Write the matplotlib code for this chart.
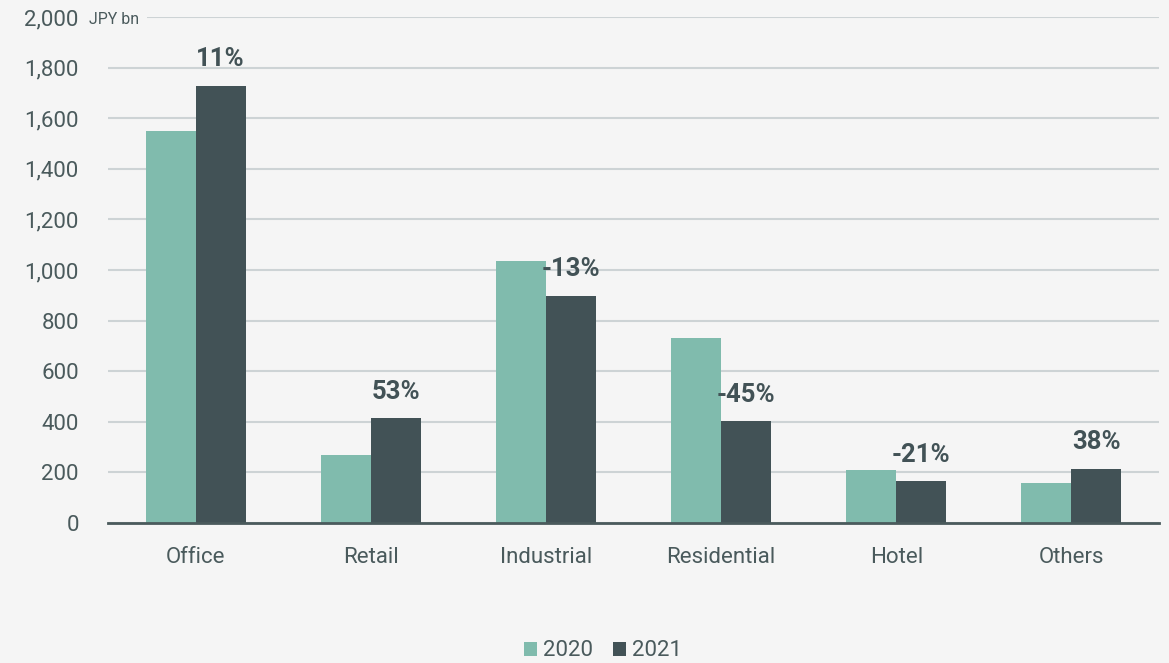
import matplotlib
matplotlib.use("Agg")
import matplotlib.pyplot as plt
import numpy as np

categories = ["Office", "Retail", "Industrial", "Residential", "Hotel", "Others"]
values_2020 = [1550, 269, 1036, 732, 210, 158]
values_2021 = [1728, 415, 898, 403, 166, 215]
changes = ["11%", "53%", "-13%", "-45%", "-21%", "38%"]
yticks = [0, 200, 400, 600, 800, 1000, 1200, 1400, 1600, 1800, 2000]

BG = "#f5f5f5"
C2020 = "#80bbad"
C2021 = "#425256"
TXT = "#4a5a5c"

plt.rcParams['font.family'] = ['Roboto', 'DejaVu Sans']

fig = plt.figure(figsize=(11.69, 6.63), dpi=100, facecolor=BG)
ax = fig.add_axes([108/1169, 1-523/663, (1159-108)/1169, (523-17)/663])
ax.set_facecolor(BG)

x = np.arange(len(categories))
w = 0.285
b1 = ax.bar(x - w/2, values_2020, w, color=C2020, label="2020", zorder=3)
b2 = ax.bar(x + w/2, values_2021, w, color=C2021, label="2021", zorder=3)

for xi, v, t in zip(x, values_2021, changes):
    ax.annotate(t, (xi + w/2, v), xytext=(0, 14), textcoords="offset points",
                ha="center", va="baseline", fontsize=18.5, fontweight="bold",
                color=C2021, zorder=5)

ax.set_xlim(-0.5, len(categories) - 0.5)
ax.set_ylim(0, 2000)
ax.set_yticks(yticks)
ax.set_yticklabels([f"{v:,}" for v in yticks])
ax.set_xticks(x)
ax.set_xticklabels(categories)
ax.tick_params(axis="y", length=0, pad=21, labelsize=16, labelcolor=TXT)
ax.tick_params(axis="x", length=0, pad=17, labelsize=16, labelcolor=TXT)

ax.yaxis.grid(True, color="#cdd3d5", linewidth=1.5, zorder=0)
ax.set_axisbelow(True)
for s in ["top", "right", "left"]:
    ax.spines[s].set_visible(False)
ax.spines["bottom"].set_color(TXT)
ax.spines["bottom"].set_linewidth(2)
ax.spines["bottom"].set_zorder(4)

ax.text(89/1169, 1-19/663, "JPY bn", transform=fig.transFigure, fontsize=11.5,
        color=TXT, ha="left", va="center",
        bbox=dict(facecolor=BG, edgecolor="none", pad=6), zorder=6)

leg = fig.legend(handles=[b1, b2], labels=["2020", "2021"], loc="center",
                 bbox_to_anchor=(603/1169, 1-651/663), ncol=2, frameon=False,
                 fontsize=16, handlelength=0.6, handleheight=0.6,
                 handletextpad=0.25, columnspacing=0.9, labelcolor=TXT)

fig.savefig("out.png", dpi=100, facecolor=BG)
